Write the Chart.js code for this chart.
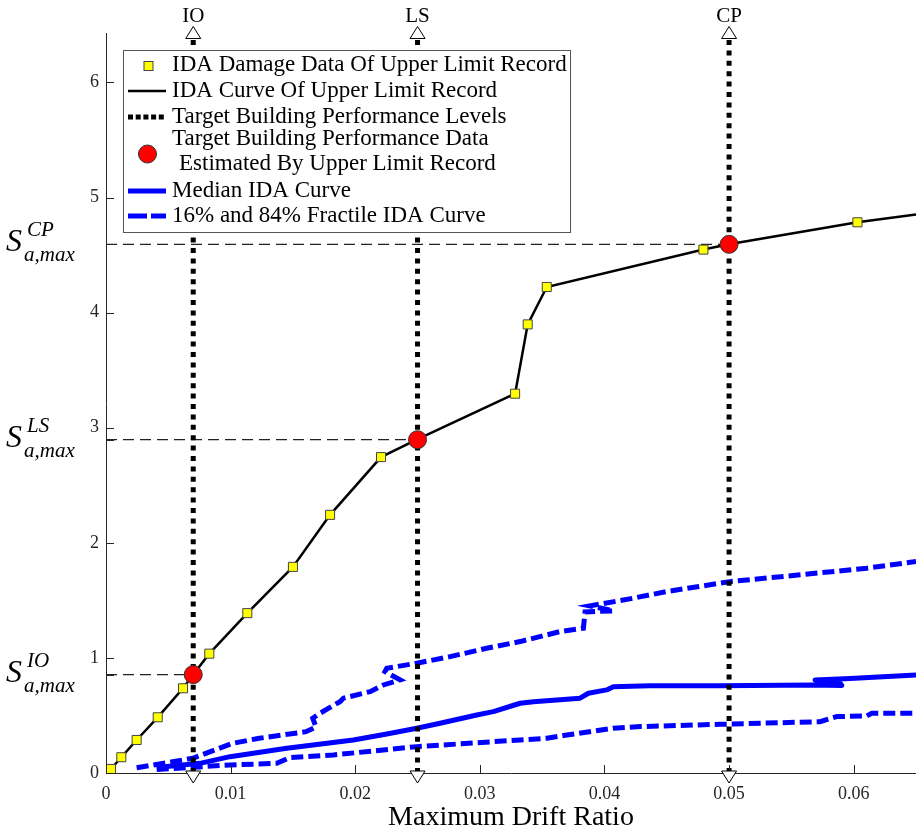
<!DOCTYPE html>
<html>
<head>
<meta charset="utf-8">
<script src="https://cdn.jsdelivr.net/npm/chart.js@4/dist/chart.umd.min.js"></script>
<style>
  html, body { margin: 0; padding: 0; background: #fff; }
  canvas { display: block; }
</style>
</head>
<body>
<canvas id="ida" width="918" height="832"></canvas>
<script>
(function(){
  // axis ticks
  var X_TICKS = [0, 0.01, 0.02, 0.03, 0.04, 0.05, 0.06];
  var Y_TICKS = [0, 1, 2, 3, 4, 5, 6];

  // target performance levels
  var LEVEL_NAMES = ["IO", "LS", "CP"];
  var LEVEL_DRIFT = [0.007, 0.025, 0.05];
  var LEVEL_SA = [0.855, 2.896, 4.594];

  // IDA damage data of upper limit record (squares)
  var DAMAGE_X = [0.0004, 0.00123, 0.00246, 0.00415, 0.00618, 0.00829, 0.01134, 0.0150, 0.01798, 0.02207, 0.03283, 0.03384, 0.03537, 0.04794, 0.0603];
  var DAMAGE_Y = [0.035, 0.137, 0.287, 0.484, 0.736, 1.037, 1.389, 1.791, 2.243, 2.745, 3.296, 3.898, 4.223, 4.548, 4.785];

  // IDA curve of upper limit record
  var UPPER_X = [0.0004, 0.00123, 0.00246, 0.00415, 0.00618, 0.007, 0.00829, 0.01134, 0.0150, 0.01798, 0.02207, 0.02493, 0.03283, 0.03384, 0.03537, 0.04794, 0.04998, 0.0603, 0.065];
  var UPPER_Y = [0.035, 0.137, 0.287, 0.484, 0.736, 0.855, 1.037, 1.389, 1.791, 2.243, 2.745, 2.896, 3.296, 3.898, 4.223, 4.548, 4.594, 4.785, 4.852];

  // median IDA curve
  var MEDIAN_X = [0.00407, 0.00754, 0.00995, 0.0145, 0.01985, 0.02253, 0.02494, 0.02681, 0.02975, 0.03108, 0.03323, 0.0343, 0.03804, 0.03871, 0.04018, 0.04071, 0.04366, 0.04928, 0.05677, 0.05905, 0.05875, 0.0569, 0.05971, 0.065];
  var MEDIAN_Y = [0.048, 0.084, 0.142, 0.215, 0.287, 0.339, 0.389, 0.432, 0.504, 0.533, 0.606, 0.62, 0.65, 0.693, 0.722, 0.75, 0.759, 0.759, 0.765, 0.761, 0.803, 0.809, 0.822, 0.852];

  // 84% fractile IDA curve
  var P84_X = [0.00246, 0.00535, 0.00696, 0.01017, 0.0123, 0.01605, 0.01685, 0.01659, 0.01717, 0.01878, 0.01905, 0.02119, 0.02226, 0.0236, 0.02239, 0.02253, 0.02494, 0.02761, 0.03055, 0.03323, 0.03644, 0.03831, 0.03844, 0.04071, 0.03884, 0.04232, 0.045, 0.05008, 0.0557, 0.06105, 0.065];
  var P84_Y = [0.046, 0.098, 0.128, 0.258, 0.302, 0.359, 0.40, 0.476, 0.519, 0.62, 0.65, 0.707, 0.765, 0.809, 0.881, 0.91, 0.954, 1.011, 1.084, 1.142, 1.229, 1.258, 1.40, 1.409, 1.452, 1.519, 1.577, 1.663, 1.722, 1.78, 1.837];

  // 16% fractile IDA curve
  var P16_X = [0.00407, 0.00995, 0.0137, 0.01477, 0.01824, 0.02494, 0.03323, 0.03537, 0.03697, 0.04071, 0.04286, 0.04928, 0.0573, 0.05864, 0.06105, 0.06145, 0.065];
  var P16_Y = [0.03, 0.07, 0.084, 0.135, 0.157, 0.229, 0.287, 0.302, 0.33, 0.389, 0.403, 0.423, 0.446, 0.49, 0.496, 0.519, 0.519];

  var SERIF = '"Liberation Serif", "Times New Roman", serif';
  var AXIS_COLOR = "#262626";

  function pts(xs, ys){ return xs.map(function(x, i){ return { x: x, y: ys[i] }; }); }

  var datasets = [];
  datasets.push({ label: "Target Building Performance Data Estimated By Upper Limit Record", data: pts(LEVEL_DRIFT, LEVEL_SA),
    showLine: false, pointStyle: "circle", pointRadius: 9, pointBackgroundColor: "#ff0000", pointBorderColor: "#333", pointBorderWidth: 1, order: 0 });
  datasets.push({ label: "IDA Damage Data Of Upper Limit Record", data: pts(DAMAGE_X, DAMAGE_Y),
    showLine: false, pointStyle: "rect", pointRadius: 6.4, pointBackgroundColor: "#ffff00", pointBorderColor: "#444", pointBorderWidth: 1, order: 1 });
  datasets.push({ label: "IDA Curve Of Upper Limit Record", data: pts(UPPER_X, UPPER_Y),
    showLine: true, borderColor: "#000", borderWidth: 2.5, pointRadius: 0, order: 2 });
  LEVEL_DRIFT.forEach(function(d){
    datasets.push({ label: "Target Building Performance Levels", data: [{ x: d, y: 0 }, { x: d, y: 6.37 }],
      showLine: true, borderColor: "#000", borderWidth: 5, borderDash: [5, 5.4], borderCapStyle: "butt", pointRadius: 0, order: 3 });
  });
  LEVEL_SA.forEach(function(s, i){
    datasets.push({ label: "level ref", data: [{ x: 0, y: s }, { x: LEVEL_DRIFT[i], y: s }],
      showLine: true, borderColor: "#222", borderWidth: 1.3, borderDash: [11, 6], pointRadius: 0, order: 4 });
  });
  datasets.push({ label: "Median IDA Curve", data: pts(MEDIAN_X, MEDIAN_Y),
    showLine: true, borderColor: "#0000ff", borderWidth: 5, borderJoinStyle: "round", pointRadius: 0, order: 5 });
  datasets.push({ label: "84% Fractile IDA Curve", data: pts(P84_X, P84_Y),
    showLine: true, borderColor: "#0000ff", borderWidth: 5, borderDash: [12, 5], pointRadius: 0, order: 5 });
  datasets.push({ label: "16% Fractile IDA Curve", data: pts(P16_X, P16_Y),
    showLine: true, borderColor: "#0000ff", borderWidth: 5, borderDash: [12, 5], pointRadius: 0, order: 5 });

  function line(ctx, x1, y1, x2, y2){ ctx.beginPath(); ctx.moveTo(x1, y1); ctx.lineTo(x2, y2); ctx.stroke(); }

  function triangle(ctx, x, yBase, yTip){
    ctx.beginPath();
    ctx.moveTo(x - 7.5, yBase); ctx.lineTo(x + 7.5, yBase); ctx.lineTo(x, yTip); ctx.closePath();
    ctx.fillStyle = "#fff"; ctx.fill();
    ctx.strokeStyle = "#000"; ctx.lineWidth = 1; ctx.stroke();
  }

  var decor = {
    id: "decor",
    afterDraw: function(chart){
      var ctx = chart.ctx, a = chart.chartArea, xs = chart.scales.x, ys = chart.scales.y;
      ctx.save();

      // axes with inward ticks
      ctx.strokeStyle = AXIS_COLOR; ctx.lineWidth = 1; ctx.setLineDash([]);
      ctx.beginPath();
      ctx.moveTo(a.left + 0.5, a.top); ctx.lineTo(a.left + 0.5, a.bottom + 0.5); ctx.lineTo(a.right, a.bottom + 0.5);
      ctx.stroke();
      xs.ticks.forEach(function(t){
        var p = Math.round(xs.getPixelForValue(t.value)) + 0.5;
        line(ctx, p, a.bottom, p, a.bottom - 8);
      });
      ys.ticks.forEach(function(t){
        var p = Math.round(ys.getPixelForValue(t.value)) + 0.5;
        line(ctx, a.left, p, a.left + 8, p);
      });

      // level markers and names
      LEVEL_DRIFT.forEach(function(d, i){
        var px = xs.getPixelForValue(d);
        triangle(ctx, px, 38.5, 26.5);
        triangle(ctx, px, a.bottom - 2, a.bottom + 10);
        ctx.fillStyle = "#000"; ctx.textAlign = "center"; ctx.textBaseline = "alphabetic";
        ctx.font = "21px " + SERIF;
        ctx.fillText(LEVEL_NAMES[i], px, 22);
      });

      // S_a,max labels
      LEVEL_SA.forEach(function(v, i){
        var py = ys.getPixelForValue(v);
        ctx.fillStyle = "#000"; ctx.textAlign = "left"; ctx.textBaseline = "alphabetic";
        ctx.font = "italic 32px " + SERIF;
        ctx.fillText("S", 6, py + 7);
        ctx.font = "italic 21px " + SERIF;
        ctx.fillText(LEVEL_NAMES[i], 27, py - 8);
        ctx.fillText("a,max", 24, py + 17);
      });

      // x axis title
      ctx.font = "28px " + SERIF; ctx.textAlign = "center"; ctx.textBaseline = "alphabetic";
      ctx.fillText("Maximum Drift Ratio", (a.left + a.right) / 2, 825);

      // legend
      var lx = 123.5, ly = 50.5, lw = 447, lh = 182;
      ctx.fillStyle = "#fff"; ctx.fillRect(lx, ly, lw, lh);
      ctx.strokeStyle = "#555"; ctx.lineWidth = 1; ctx.strokeRect(lx, ly, lw, lh);

      ctx.fillStyle = "#ffff00"; ctx.strokeStyle = "#444";
      ctx.fillRect(144, 61.5, 9, 9); ctx.strokeRect(144, 61.5, 9, 9);

      ctx.strokeStyle = "#000"; ctx.lineWidth = 2.5;
      line(ctx, 128, 91, 166, 91);

      ctx.fillStyle = "#000";
      for(var k = 0; k < 5; k++){ ctx.fillRect(128 + k * 7.7, 114.5, 5, 5); }

      ctx.beginPath(); ctx.arc(147.5, 154, 9, 0, Math.PI * 2);
      ctx.fillStyle = "#ff0000"; ctx.fill(); ctx.strokeStyle = "#333"; ctx.lineWidth = 1; ctx.stroke();

      ctx.strokeStyle = "#0000ff"; ctx.lineWidth = 5;
      line(ctx, 128, 191, 166, 191);
      line(ctx, 128, 216, 147, 216);
      line(ctx, 151, 216, 166, 216);

      ctx.fillStyle = "#000"; ctx.textAlign = "left"; ctx.textBaseline = "alphabetic";
      ctx.font = "23px " + SERIF;
      ctx.fillText("IDA Damage Data Of Upper Limit Record", 172, 71);
      ctx.fillText("IDA Curve Of Upper Limit Record", 172, 97);
      ctx.fillText("Target Building Performance Levels", 172, 123);
      ctx.fillText("Target Building Performance Data", 172, 144.5);
      ctx.fillText("Estimated By Upper Limit Record", 179, 170);
      ctx.fillText("Median IDA Curve", 172, 197);
      ctx.fillText("16% and 84% Fractile IDA Curve", 172, 222);

      ctx.restore();
    }
  };

  new Chart(document.getElementById("ida"), {
    type: "scatter",
    data: { datasets: datasets },
    options: {
      responsive: false,
      animation: false,
      devicePixelRatio: 1,
      layout: { autoPadding: false, padding: { top: 33, left: 0, right: 2, bottom: 0 } },
      elements: { line: { tension: 0 } },
      plugins: { legend: { display: false }, tooltip: { enabled: false } },
      scales: {
        x: {
          type: "linear", min: 0, max: 0.065,
          grid: { display: false, drawTicks: false },
          border: { display: false },
          afterBuildTicks: function(s){ s.ticks = X_TICKS.map(function(v){ return { value: v }; }); },
          afterFit: function(s){ s.height = 59; s.paddingLeft = 0; s.paddingRight = 0; },
          ticks: { autoSkip: false, maxRotation: 0, padding: 10, color: AXIS_COLOR,
            font: { family: SERIF, size: 18 },
            callback: function(v){ return String(v); } }
        },
        y: {
          type: "linear", min: 0, max: 6.43,
          grid: { display: false, drawTicks: false },
          border: { display: false },
          afterBuildTicks: function(s){
            s.ticks = Y_TICKS.concat(LEVEL_SA).sort(function(p, q){ return p - q; }).map(function(v){ return { value: v }; });
          },
          afterFit: function(s){ s.width = 106; s.paddingTop = 0; s.paddingBottom = 0; },
          ticks: { autoSkip: false, padding: 7, color: AXIS_COLOR,
            font: { family: SERIF, size: 18 },
            callback: function(v){ return Y_TICKS.indexOf(v) >= 0 ? String(v) : ""; } }
        }
      }
    },
    plugins: [decor]
  });
})();
</script>
</body>
</html>
